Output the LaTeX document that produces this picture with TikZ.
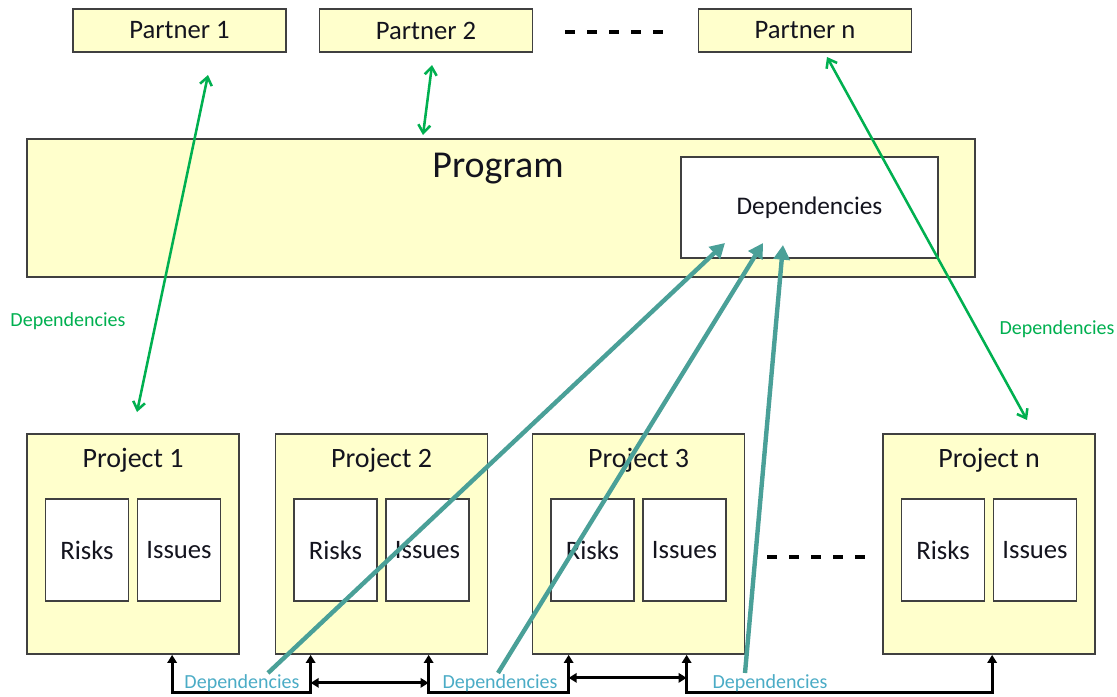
\documentclass[tikz,border=0pt]{standalone}
\usepackage{fontspec}
\setmainfont{Carlito}
\usetikzlibrary{arrows.meta,calc}
\definecolor{boxfill}{RGB}{255,255,204}
\definecolor{boxline}{RGB}{64,64,64}
\definecolor{grn}{RGB}{0,176,80}
\definecolor{tealline}{RGB}{74,160,152}
\definecolor{tealtext}{RGB}{75,172,198}
\definecolor{txt}{RGB}{20,20,30}
\begin{document}
\begin{tikzpicture}[x=0.75pt,y=-0.75pt,
  ybox/.style={draw=boxline,fill=boxfill,line width=1.3pt,inner sep=0pt,text=txt},
  wbox/.style={draw=boxline,fill=white,line width=1.3pt,inner sep=0pt,text=txt},
  partner/.style={ybox,minimum width=159.75pt,minimum height=32.25pt,font=\fontsize{20}{24}\selectfont},
  project/.style={ybox,minimum width=159pt,minimum height=165pt},
  ri/.style={wbox,minimum width=62.25pt,minimum height=76.5pt,font=\fontsize{20}{24}\selectfont},
  ptitle/.style={font=\fontsize{21}{25}\selectfont,inner sep=0pt,text=txt},
  garrow/.style={draw=grn,line width=1.9pt,{Straight Barb[length=6pt,width=9pt]}-{Straight Barb[length=6pt,width=9pt]}},
  tarrow/.style={draw=tealline,line width=3.3pt,-{Triangle[length=11pt,width=12pt]}},
  barrow/.style={draw=black,line width=2.2pt},
  btip/.style={{Triangle[length=6pt,width=7pt]}-{Triangle[length=6pt,width=7pt]}},
  glabel/.style={text=grn,font=\fontsize{15}{18}\selectfont,inner sep=0pt},
  tlabel/.style={text=tealtext,font=\fontsize{15}{18}\selectfont,inner sep=0pt},
  dashrow/.style={draw=black,line width=2.4pt,dash pattern=on 7.5pt off 9pt}
]
\useasboundingbox[fill=white] (0,0) rectangle (1117,696);

% partners
\node[partner] (pa1) at (179.5,30.5) {\raisebox{-1.5pt}{Partner 1}};
\node[partner] (pa2) at (426,30.5) {\raisebox{-1.5pt}{Partner 2}};
\node[partner] (pan) at (805,30.5) {\raisebox{-1.5pt}{Partner n}};
\coordinate (tdA) at (565,32);
\coordinate (tdB) at (665,32);
\draw[dashrow] (tdA) -- (tdB);

% program
\node[ybox,minimum width=711pt,minimum height=103.5pt] (prog) at (501,208) {};
\node[font=\fontsize{28.5}{32}\selectfont,inner sep=0pt,text=txt] (progt) at (498,169) {Program};
\node[wbox,minimum width=192.75pt,minimum height=75.75pt,font=\fontsize{19}{23}\selectfont] (deps) at (809.5,207.5) {\raisebox{-2pt}{Dependencies}};

% projects
\foreach \n/\cx/\lab in {1/133/Project 1,2/381.5/Project 2,3/638.5/Project 3,n/989/Project n}{
  \node[project] (proj\n) at (\cx,544) {};
  \node[ptitle] (projt\n) at (\cx,460) {\lab};
  \node[ri] (risk\n) at (\cx-46,550) {Risks};
  \node[ri] (iss\n) at (\cx+46,550) {Issues};
}
\coordinate (bdA) at (767,557);
\coordinate (bdB) at (867,557);
\draw[dashrow] (bdA) -- (bdB);

% green dependency arrows
\coordinate (g1a) at (208,75);
\coordinate (g1b) at (137,412);
\coordinate (g2a) at (432,65);
\coordinate (g2b) at (423,135);
\coordinate (g3a) at (827,57);
\coordinate (g3b) at (1027,420);
\draw[garrow] (g1a) -- (g1b);
\draw[garrow] (g2a) -- (g2b);
\draw[garrow] (g3a) -- (g3b);
\node[glabel] (gl1) at (68,321) {Dependencies};
\node[glabel] (gl2) at (1057,329) {Dependencies};

% bottom brackets
\coordinate (b1) at ($(proj1.south west)+(146,0)$);
\coordinate (b2) at ($(proj2.south west)+(36,0)$);
\coordinate (b3) at ($(proj2.south west)+(154,0)$);
\coordinate (b4) at ($(proj3.south west)+(37,0)$);
\coordinate (b5) at ($(proj3.south west)+(155,0)$);
\coordinate (b6) at ($(projn.south west)+(110,0)$);
\draw[barrow,btip] (b1) -- ($(b1)+(0,38)$) -| (b2);
\draw[barrow,btip] (b3) -- ($(b3)+(0,38)$) -| (b4);
\draw[barrow,btip] (b5) -- ($(b5)+(0,38)$) -| (b6);
\draw[barrow,btip] ($(b2)+(0,28)$) -- ($(b3)+(0,28)$);
\draw[barrow,btip] ($(b4)+(0,23)$) -- ($(b5)+(0,23)$);
\node[tlabel] (tl1) at (242,683) {Dependencies};
\node[tlabel] (tl2) at (500,683) {Dependencies};
\node[tlabel] (tl3) at (770,683) {Dependencies};

% teal arrows
\coordinate (t1s) at (268,673);
\coordinate (t1e) at (725,243);
\coordinate (t2s) at (498,673);
\coordinate (t2e) at (763,243);
\coordinate (t3s) at (745,673);
\coordinate (t3e) at (783,245);
\draw[tarrow] (t1s) -- (t1e);
\draw[tarrow] (t2s) -- (t2e);
\draw[tarrow] (t3s) -- (t3e);
\end{tikzpicture}
\end{document}
